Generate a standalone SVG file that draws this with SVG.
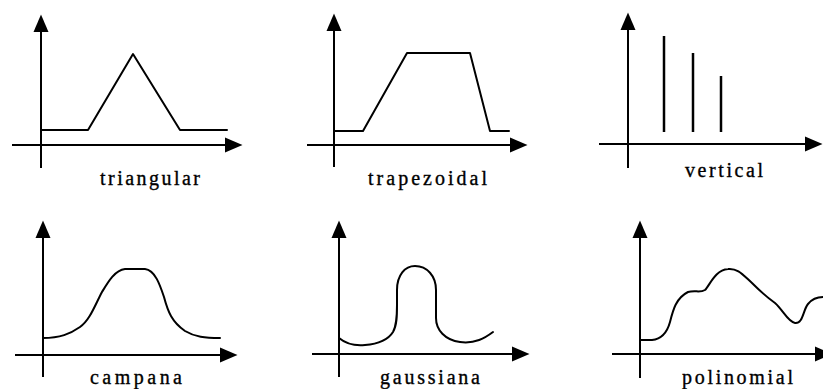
<svg xmlns="http://www.w3.org/2000/svg" width="823" height="389" viewBox="0 0 823 389">
<style>
.ax{stroke:#000;stroke-width:2;fill:none;marker-end:url(#ah)}
.cv{stroke:#000;stroke-width:2;fill:none;stroke-linejoin:round;stroke-linecap:round}
.bar{stroke:#000;stroke-width:2.5}
.lb{font-family:"Liberation Serif","Times New Roman",serif;font-size:20px;fill:#000;stroke:#000;stroke-width:0.35}
</style>
<defs>
<marker id="ah" viewBox="0 -8 18 16" markerWidth="18" markerHeight="16" refX="0" refY="0" orient="auto" markerUnits="userSpaceOnUse" overflow="visible">
<path d="M0,-7.5 L17.5,0 L0,7.5 Z" fill="#000"/>
</marker>
</defs>
<rect width="823" height="389" fill="#fff"/>
<g id="connectors">
<line class="ax" x1="41" y1="168" x2="41" y2="32"/>
<line class="ax" x1="12" y1="145" x2="225" y2="145"/>
<line class="ax" x1="334" y1="167" x2="334" y2="31"/>
<line class="ax" x1="307" y1="145" x2="510" y2="145"/>
<line class="ax" x1="628" y1="168" x2="628" y2="30"/>
<line class="ax" x1="599" y1="144" x2="805" y2="144"/>
<line class="ax" x1="43" y1="377" x2="43" y2="238"/>
<line class="ax" x1="15" y1="355" x2="220" y2="355"/>
<line class="ax" x1="339" y1="377" x2="339" y2="238"/>
<line class="ax" x1="312" y1="354" x2="512" y2="354"/>
<line class="ax" x1="640" y1="378" x2="640" y2="238"/>
<line class="ax" x1="612" y1="354" x2="815" y2="354"/>
</g>
<g id="triangular">
<path class="cv" d="M41,130 L88,130 L133,54 L180,130 L227,130"/>
<text class="lb" x="100" y="185" textLength="100" lengthAdjust="spacing">triangular</text>
</g>
<g id="trapezoidal">
<path class="cv" d="M334,131 L363,131 L407,53 L470,53 L490,131 L509,131"/>
<text class="lb" x="368" y="185" textLength="119" lengthAdjust="spacing">trapezoidal</text>
</g>
<g id="vertical">
<line class="bar" x1="664" y1="36" x2="664" y2="132"/>
<line class="bar" x1="693" y1="53" x2="693" y2="132"/>
<line class="bar" x1="721" y1="76" x2="721" y2="132"/>
<text class="lb" x="685" y="177" textLength="78" lengthAdjust="spacing">vertical</text>
</g>
<g id="campana">
<path class="cv" d="M43,338 C60,338 70,334 80,327 C90,320 95,305 102,292 C108,282 115,270 125,269 L145,269 C155,270 160,285 164,297 C168,312 172,322 185,331 C195,337 205,338 220,338"/>
<text class="lb" x="90" y="384" textLength="92" lengthAdjust="spacing">campana</text>
</g>
<g id="gaussiana">
<path class="cv" d="M339,338 C345,343 355,346 365,345 C378,344 388,340 393,332 C397,325 397,315 397,305 L397,290 C397,275 405,266 415,266 C427,266 436,276 436,290 L436,318 C436,330 445,340 460,342 C475,344 485,338 493,332"/>
<text class="lb" x="380" y="384" textLength="100" lengthAdjust="spacing">gaussiana</text>
</g>
<g id="polinomial">
<path class="cv" d="M640,340 L652,340 C662,339 667,333 670,322 C673,310 676,298 688,292 C695,290 700,293 705,290 C710,285 715,270 728,269 C738,268 743,275 752,283 C760,291 768,298 775,303 C783,310 788,322 795,323 C803,324 803,310 808,304 C812,299 817,297 823,297"/>
<text class="lb" x="682" y="384" textLength="111" lengthAdjust="spacing">polinomial</text>
</g>
</svg>
